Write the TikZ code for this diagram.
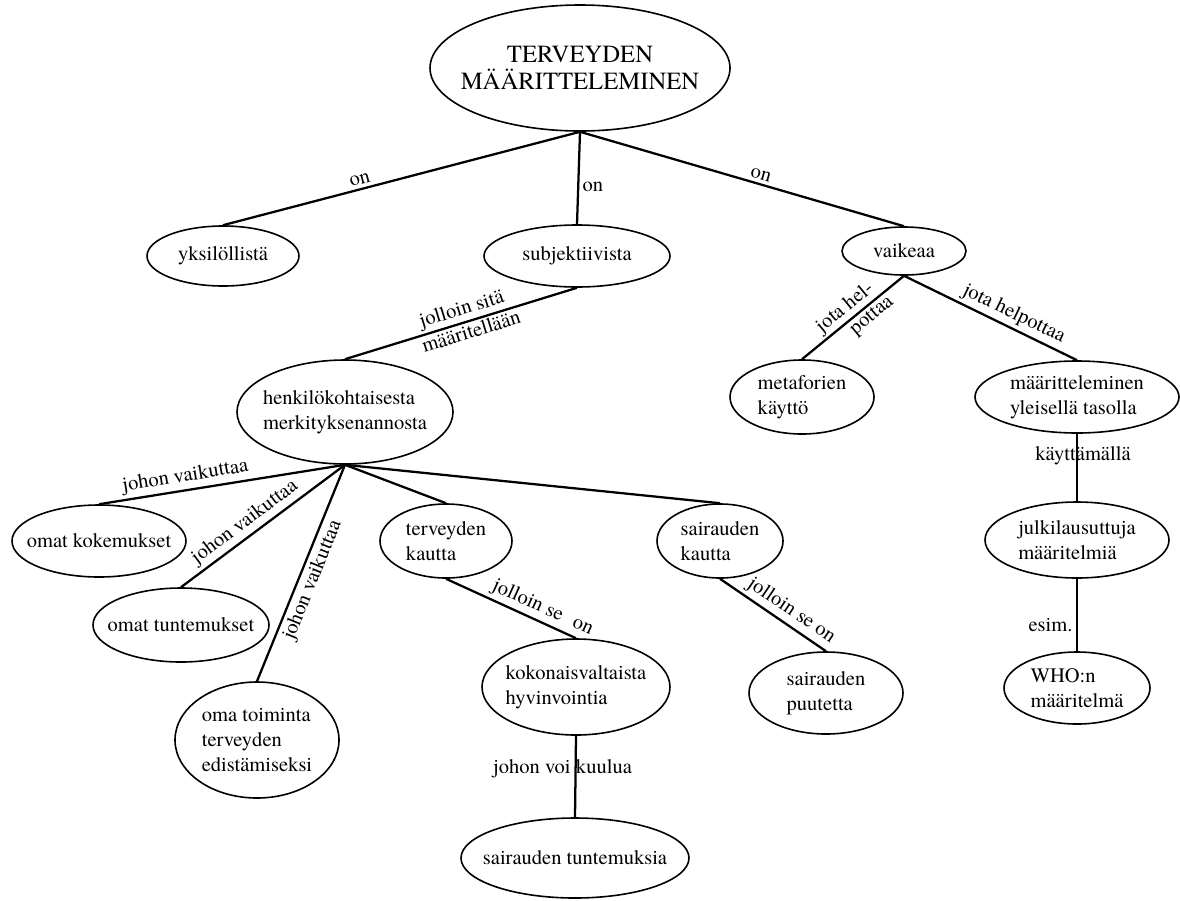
\documentclass[tikz,border=0pt]{standalone}
\usepackage{fontspec}
\setmainfont{texgyretermes}[Extension=.otf, UprightFont=*-regular, BoldFont=*-bold, ItalicFont=*-italic, BoldItalicFont=*-bolditalic]
\usetikzlibrary{shapes.geometric}
\begin{document}
\begin{tikzpicture}[x=0.75pt,y=-0.75pt,
  every node/.style={font=\fontsize{15.4}{18.6}\selectfont},
  ell/.style 2 args={ellipse, draw, line width=1.2pt, inner sep=-25pt,
    minimum width=#1*1.5pt, minimum height=#2*1.5pt, align=left},
  link/.style={line width=1.7pt},
  lbl/.style={inner sep=2.5pt},
  tight/.style={inner sep=1.5pt}]
\useasboundingbox (0,0) rectangle (1180,900);

% concept nodes
\node[ell={150}{63}, align=center, font=\fontsize{18.5}{20.5}\selectfont] (top) at (580,68) {TERVEYDEN\\MÄÄRITTELEMINEN};
\node[ell={76}{30}] (yks) at (223,256) {yksilöllistä};
\node[ell={93}{31}] (subj) at (577,256) {subjektiivista};
\node[ell={62}{24}] (vaik) at (904,251) {vaikeaa};
\node[ell={108}{52}] (henk) at (345,412) {henkilökohtaisesta\\merkityksenannosta};
\node[ell={72}{37}] (meta) at (802,397) {metaforien\\käyttö};
\node[ell={102}{36}] (maar) at (1077,397) {määritteleminen\\yleisellä tasolla};
\node[ell={92}{38}] (julk) at (1077,540) {julkilausuttuja\\määritelmiä};
\node[ell={73}{36}] (who) at (1077,688) {WHO:n\\määritelmä};
\node[ell={87}{36}] (kok) at (99,541) {omat kokemukset};
\node[ell={88}{37}] (tunt) at (181,625) {omat tuntemukset};
\node[ell={82}{58}] (toim) at (257,740) {oma toiminta\\terveyden\\edistämiseksi};
\node[ell={66}{37}] (terv) at (446,541) {terveyden\\kautta};
\node[ell={94}{48}] (koko) at (576,687) {kokonaisvaltaista\\hyvinvointia};
\node[ell={114}{40}] (stun) at (575,858) {sairauden tuntemuksia};
\node[ell={63}{37}] (sair) at (720,541) {sairauden\\kautta};
\node[ell={77}{41}] (puut) at (826,693) {sairauden\\puutetta};

% connectors with their labels
\draw[link] (yks.north) -- (top.south) node[lbl, pos=0.39, sloped, above] {on};
\draw[link] (top.south) -- (subj.north) node[lbl, pos=0.6, right] {on};
\draw[link] (top.south) -- (vaik.north) node[lbl, pos=0.55, sloped, above] {on};

\draw[link] (henk.north) -- (subj.south)
  node[tight, pos=0.52, sloped, above] {jolloin sitä}
  node[tight, pos=0.53, sloped, below] {määritellään};

\draw[link] (meta.north) -- (vaik.south)
  node[tight, pos=0.5, sloped, above] {jota hel-}
  node[tight, pos=0.62, sloped, below] {pottaa};
\draw[link] (vaik.south) -- (maar.north) node[lbl, pos=0.6, sloped, above] {jota helpottaa};
\draw[link] (maar.south) -- (julk.north) node[lbl, pos=0.33, xshift=4.5pt] {käyttämällä};
\draw[link] (julk.south) -- (who.north) node[lbl, pos=0.64, left] {esim.};

\draw[link] (kok.north) -- (henk.south) node[lbl, pos=0.36, sloped, above] {johon vaikuttaa};
\draw[link] (tunt.north) -- (henk.south) node[lbl, pos=0.44, sloped, above] {johon vaikuttaa};
\draw[link] (toim.north) -- (henk.south) node[lbl, pos=0.49, sloped, below] {johon vaikuttaa};
\draw[link] (henk.south) -- (terv.north);
\draw[link] (henk.south) -- (sair.north);

\draw[link] (terv.south) -- (koko.north) node[lbl, pos=0.7, sloped, above] {jolloin se\hspace{0.6em}on};
\draw[link] (sair.south) -- (puut.north) node[lbl, pos=0.6, sloped, above] {jolloin se on};
\draw[link] (koko.south) -- (stun.north) node[lbl, pos=0.41, xshift=-9.75pt] {johon voi kuulua};
\end{tikzpicture}
\end{document}
